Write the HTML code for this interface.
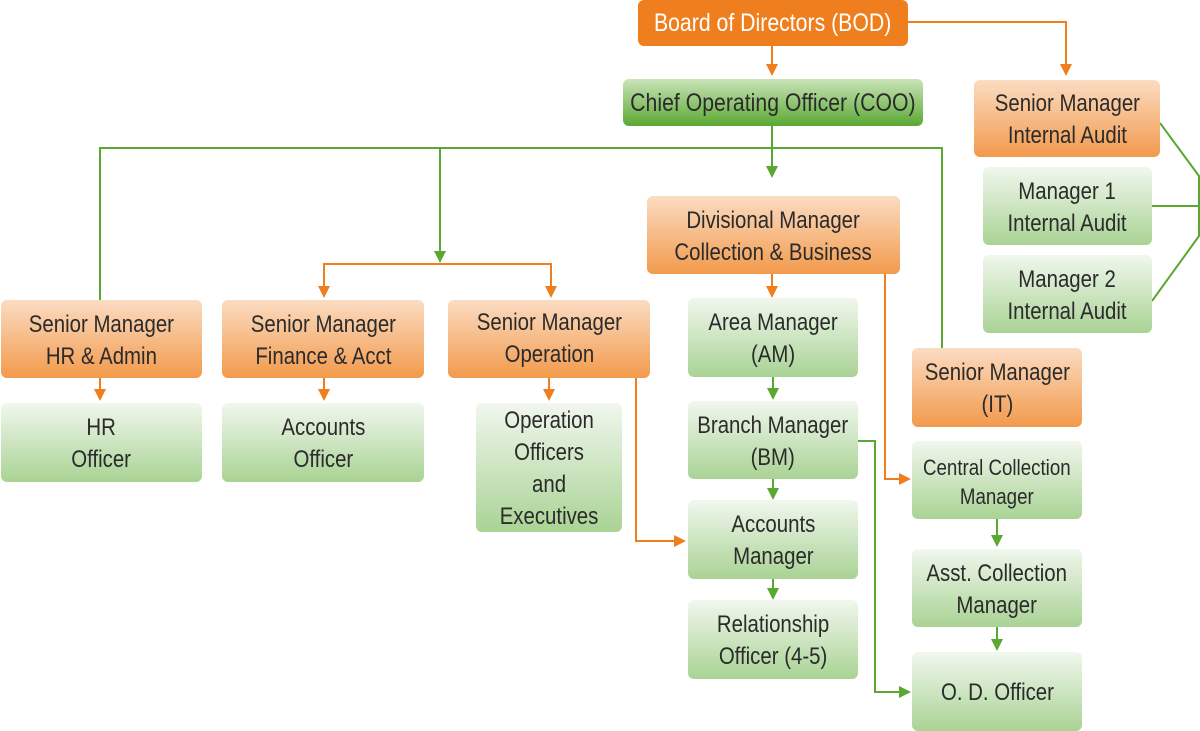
<!DOCTYPE html>
<html><head><meta charset="utf-8"><style>
body{margin:0;width:1200px;height:731px;background:#fff;position:relative;overflow:hidden;font-family:"Liberation Sans Narrow","Liberation Sans",sans-serif;}
.b{position:absolute;box-sizing:border-box;border-radius:6px;display:flex;align-items:center;justify-content:center;text-align:center;font-size:24px;line-height:32px;color:#2b2b2b;padding-top:3px;}
.b span{display:inline-block;white-space:nowrap;transform:scaleX(0.85);}
.o{background:linear-gradient(#fbdcc2,#f29a4c);}
.g{background:linear-gradient(#f1f7ee,#a9d394);}
svg{position:absolute;left:0;top:0;}
</style></head><body>
<svg width="1200" height="731">
<defs>
<marker id="ao" markerWidth="12" markerHeight="12" refX="10" refY="6" orient="auto" markerUnits="userSpaceOnUse"><path d="M0,0 L12,6 L0,12 z" fill="#ef7f1e"/></marker>
<marker id="ag" markerWidth="12" markerHeight="12" refX="10" refY="6" orient="auto" markerUnits="userSpaceOnUse"><path d="M0,0 L12,6 L0,12 z" fill="#5aa832"/></marker>
</defs>
<g fill="none" stroke-width="2">
<g stroke="#ef7f1e">
<path d="M908,22 H1066 V74" marker-end="url(#ao)"/>
<path d="M772,46 V74" marker-end="url(#ao)"/>
<path d="M324,296 V264 H551 V296"/>
<path d="M324,284 V296" marker-end="url(#ao)"/>
<path d="M551,284 V296" marker-end="url(#ao)"/>
<path d="M772,274 V296" marker-end="url(#ao)"/>
<path d="M885,274 V479 H909" marker-end="url(#ao)"/>
<path d="M100,378 V399" marker-end="url(#ao)"/>
<path d="M324,378 V399" marker-end="url(#ao)"/>
<path d="M549,378 V399" marker-end="url(#ao)"/>
<path d="M636,378 V541 H684" marker-end="url(#ao)"/>
</g>
<g stroke="#5aa832">
<path d="M772,126 V176" marker-end="url(#ag)"/>
<path d="M100,300 V148 H942 V348"/>
<path d="M440,148 V261" marker-end="url(#ag)"/>
<path d="M1160,123 L1199,176 V236 L1152,301 M1152,206 H1199"/>
<path d="M773,377 V398" marker-end="url(#ag)"/>
<path d="M773,479 V498" marker-end="url(#ag)"/>
<path d="M773,579 V598" marker-end="url(#ag)"/>
<path d="M858,441 H875 V692 H909" marker-end="url(#ag)"/>
<path d="M997,519 V545" marker-end="url(#ag)"/>
<path d="M997,627 V649" marker-end="url(#ag)"/>
</g>
</g>
</svg>
<div class="b" style="left:638px;top:0;width:270px;height:46px;background:#ef7f1e;color:#fff;font-size:25px;padding-top:0;"><span>Board of Directors (BOD)</span></div>
<div class="b" style="left:623px;top:79px;width:300px;height:47px;background:linear-gradient(#c9e4b8,#5aa832);font-size:25px;padding-top:0;"><span>Chief Operating Officer (COO)</span></div>
<div class="b o" style="left:974px;top:80px;width:186px;height:77px;"><span>Senior Manager<br>Internal Audit</span></div>
<div class="b g" style="left:983px;top:167px;width:169px;height:78px;"><span>Manager 1<br>Internal Audit</span></div>
<div class="b g" style="left:983px;top:255px;width:169px;height:78px;"><span>Manager 2<br>Internal Audit</span></div>
<div class="b o" style="left:647px;top:196px;width:253px;height:78px;"><span>Divisional Manager<br>Collection &amp; Business</span></div>
<div class="b o" style="left:1px;top:300px;width:201px;height:78px;"><span>Senior Manager<br>HR &amp; Admin</span></div>
<div class="b o" style="left:222px;top:300px;width:202px;height:78px;"><span>Senior Manager<br>Finance &amp; Acct</span></div>
<div class="b o" style="left:448px;top:300px;width:202px;height:78px;padding-top:0;"><span>Senior Manager<br>Operation</span></div>
<div class="b g" style="left:688px;top:298px;width:170px;height:79px;"><span>Area Manager<br>(AM)</span></div>
<div class="b g" style="left:1px;top:403px;width:201px;height:79px;"><span>HR<br>Officer</span></div>
<div class="b g" style="left:222px;top:403px;width:202px;height:79px;"><span>Accounts<br>Officer</span></div>
<div class="b g" style="left:476px;top:403px;width:146px;height:129px;"><span>Operation<br>Officers<br>and<br>Executives</span></div>
<div class="b g" style="left:688px;top:401px;width:170px;height:78px;"><span>Branch Manager<br>(BM)</span></div>
<div class="b g" style="left:688px;top:500px;width:170px;height:79px;"><span>Accounts<br>Manager</span></div>
<div class="b g" style="left:688px;top:600px;width:170px;height:79px;"><span>Relationship<br>Officer (4-5)</span></div>
<div class="b o" style="left:912px;top:348px;width:170px;height:79px;"><span>Senior Manager<br>(IT)</span></div>
<div class="b g" style="left:912px;top:441px;width:170px;height:78px;font-size:22px;line-height:29px;"><span>Central Collection<br>Manager</span></div>
<div class="b g" style="left:912px;top:549px;width:170px;height:78px;"><span>Asst. Collection<br>Manager</span></div>
<div class="b g" style="left:912px;top:652px;width:170px;height:79px;"><span>O. D. Officer</span></div>
</body></html>
